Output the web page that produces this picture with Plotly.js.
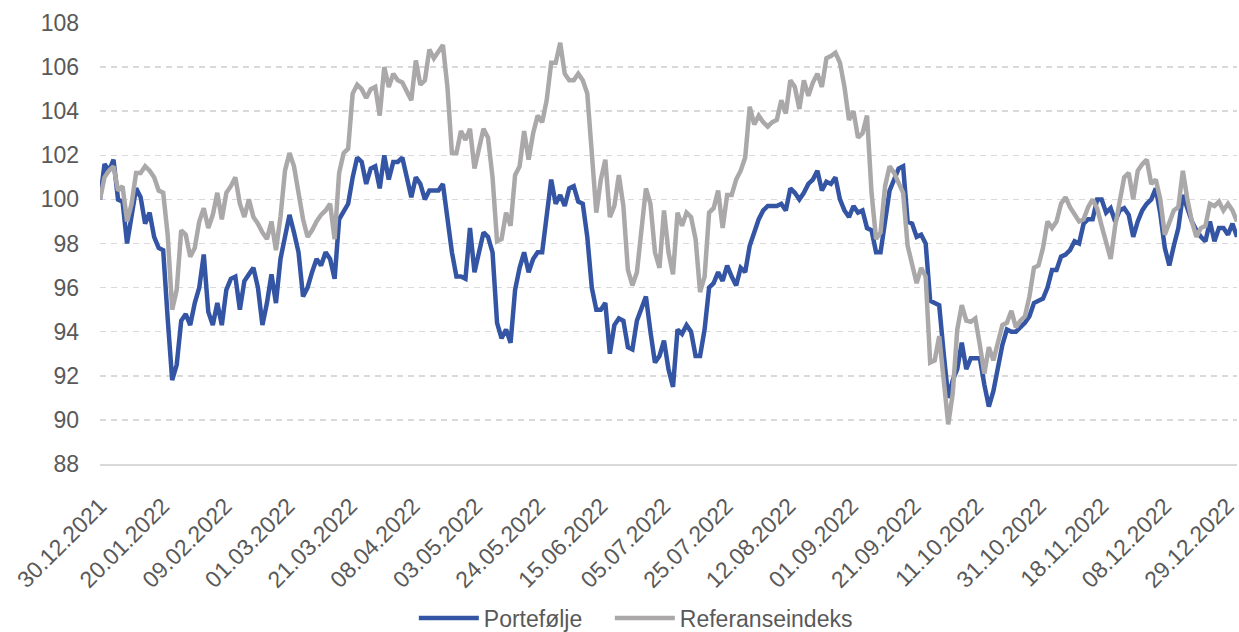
<!DOCTYPE html>
<html><head><meta charset="utf-8">
<script src="https://cdn.plot.ly/plotly-3.0.1.min.js"></script>
<style>html,body{margin:0;padding:0;background:#fff;}#chart{width:1239px;height:632px;}</style>
</head><body><div id="chart"></div>
<script>
const tickLabels = ["30.12.2021","20.01.2022","09.02.2022","01.03.2022","21.03.2022","08.04.2022","03.05.2022","24.05.2022","15.06.2022","05.07.2022","25.07.2022","12.08.2022","01.09.2022","21.09.2022","11.10.2022","31.10.2022","18.11.2022","08.12.2022","29.12.2022"];
const tickStep = 13.88;

const portefolje = [
100.0,101.6,101.3,101.8,100.0,99.9,98.0,99.3,100.5,100.1,
98.9,99.4,98.3,97.8,97.7,94.6,91.8,92.5,94.5,94.8,
94.3,95.3,96.0,97.5,94.9,94.3,95.3,94.3,95.9,96.4,
96.5,95.0,96.3,96.6,96.9,96.0,94.3,95.3,96.6,95.3,
97.3,98.3,99.3,98.5,97.6,95.6,96.0,96.7,97.3,97.0,
97.6,97.3,96.4,99.1,99.5,99.8,101.0,101.9,101.7,100.7,
101.4,101.5,100.5,102.0,100.9,101.7,101.7,101.9,101.0,100.1,
101.0,100.7,100.0,100.4,100.4,100.4,100.7,99.1,97.6,96.5,
96.5,96.4,98.7,96.7,97.7,98.5,98.3,97.6,94.4,93.7,
94.1,93.5,95.9,96.9,97.6,96.7,97.3,97.6,97.6,99.1,
100.9,99.8,100.2,99.7,100.5,100.6,99.9,99.8,98.3,96.0,
95.0,95.0,95.3,93.0,94.3,94.6,94.5,93.3,93.2,94.5,
95.0,95.6,94.0,92.6,92.9,93.6,92.3,91.5,94.1,93.9,
94.3,94.0,92.9,92.9,94.1,96.0,96.2,96.7,96.3,97.0,
96.5,96.1,96.9,96.7,97.9,98.5,99.1,99.5,99.7,99.7,
99.7,99.8,99.5,100.5,100.3,100.0,100.3,100.7,100.9,101.3,
100.4,100.8,100.7,101.0,100.0,99.5,99.2,99.7,99.4,99.5,
98.7,98.6,97.6,97.6,98.9,100.4,100.9,101.4,101.5,99.0,
98.9,98.3,98.4,98.0,95.4,95.3,95.2,93.0,91.0,91.8,
92.3,93.5,92.3,92.8,92.8,92.8,91.6,90.6,91.3,92.5,
93.4,94.1,94.0,94.0,94.2,94.4,94.7,95.3,95.4,95.5,
96.0,96.8,96.8,97.4,97.5,97.7,98.1,98.0,98.9,99.1,
99.1,100.0,100.0,99.4,99.6,99.0,99.5,99.6,99.3,98.3,
99.0,99.5,99.8,100.0,100.5,99.35,97.8,97.0,97.9,98.7,
100.2,99.65,99.0,98.6,98.3,98.1,99.0,98.1,98.7,98.7,
98.4,98.9,98.3
];

const referanse = [
100.0,101.0,101.3,101.5,100.4,100.6,99.0,99.8,101.2,101.2,
101.5,101.3,101.0,100.4,100.3,98.4,95.0,95.9,98.6,98.4,
97.4,97.8,99.0,99.6,98.7,99.3,100.3,99.1,100.3,100.6,
101.0,99.8,99.2,100.0,99.2,98.9,98.5,98.2,99.0,97.7,
99.2,101.3,102.1,101.5,100.3,99.1,98.3,98.6,99.0,99.3,
99.5,99.8,98.2,101.2,102.1,102.3,104.8,105.2,105.0,104.6,
105.0,105.1,103.8,106.0,105.1,105.7,105.4,105.3,104.9,104.5,
106.3,105.2,105.4,106.8,106.4,106.7,107.0,105.1,102.1,102.1,
103.1,102.7,103.2,101.4,102.4,103.2,102.8,101.0,98.1,98.2,
99.4,98.8,101.1,101.5,103.1,101.8,103.0,103.8,103.5,104.5,
106.2,106.2,107.1,105.7,105.4,105.4,105.7,105.4,104.8,102.1,
99.4,100.9,101.8,99.2,99.7,101.1,99.7,96.8,96.1,96.7,
98.8,100.5,99.8,97.6,96.9,99.5,97.6,96.6,99.4,98.8,
99.4,99.2,98.2,95.8,96.5,99.4,99.6,100.4,98.7,100.2,
100.2,100.9,101.3,101.9,104.2,103.4,103.8,103.5,103.3,103.5,
103.6,104.5,103.9,105.4,105.1,104.1,105.4,104.7,105.3,105.7,
105.1,106.4,106.5,106.65,106.2,105.1,103.6,104.0,102.8,103.0,
103.8,100.3,98.2,98.5,100.6,101.5,101.2,100.8,100.3,97.9,
97.0,96.2,96.9,96.5,92.6,92.7,93.8,91.8,89.8,91.2,
94.1,95.2,94.5,94.45,94.6,93.4,92.1,93.3,92.7,93.5,
94.3,94.4,94.95,94.2,94.5,94.7,95.6,96.9,97.0,97.8,
99.0,98.7,99.0,99.8,100.1,99.65,99.3,99.0,99.1,99.65,
100.0,99.6,98.8,98.0,97.3,98.8,99.8,101.0,101.2,100.0,
101.3,101.6,101.8,100.7,100.9,100.0,98.4,99.0,99.5,99.65,
101.3,100.0,99.0,98.3,98.7,98.8,99.8,99.7,99.9,99.5,
99.8,99.5,99.0
];

const xIdx = portefolje.map((_, i) => i);
const tickVals = tickLabels.map((_, k) => k * tickStep);

const FONT = 'Liberation Sans, Arial, sans-serif';
const TXT = '#595959';

const traces = [
  {x: xIdx, y: portefolje, name: 'Portefølje', type: 'scatter', mode: 'lines', legendwidth: 121,
   line: {color: '#3454A4', width: 4.5}},
  {x: xIdx, y: referanse, name: 'Referanseindeks', type: 'scatter', mode: 'lines', legendwidth: 185,
   line: {color: '#AAA8A8', width: 4.5}}
];

const layout = {
  width: 1239, height: 632,
  margin: {l: 100, r: 2, t: 23, b: 168, pad: 0},
  paper_bgcolor: '#ffffff', plot_bgcolor: '#ffffff',
  font: {family: FONT, size: 23, color: TXT},
  showlegend: true,
  legend: {orientation: 'h', xref: 'container', yref: 'container', x: 0.334, xanchor: 'left',
           y: 0.022, yanchor: 'middle', font: {family: FONT, size: 23, color: TXT},
           itemwidth: 60, traceorder: 'normal'},
  xaxis: {range: [0, portefolje.length - 1], tickmode: 'array', tickvals: tickVals, ticktext: tickLabels,
          tickangle: -45, showgrid: false, zeroline: false, showline: true, linecolor: '#D9D9D9', linewidth: 1.5,
          ticks: '', ticklabelstandoff: 18, ticklabeloverflow: 'allow',
          tickfont: {family: FONT, size: 23, color: TXT}},
  yaxis: {range: [88, 108], tickmode: 'linear', tick0: 88, dtick: 2, showgrid: true, gridcolor: '#D9D9D9',
          gridwidth: 1.5, griddash: '6px,5px', zeroline: false, showline: false, ticks: '',
          ticklabelstandoff: 20, tickfont: {family: FONT, size: 23, color: TXT}}
};

Plotly.newPlot('chart', traces, layout, {staticPlot: true, displayModeBar: false});
</script>
</body></html>
